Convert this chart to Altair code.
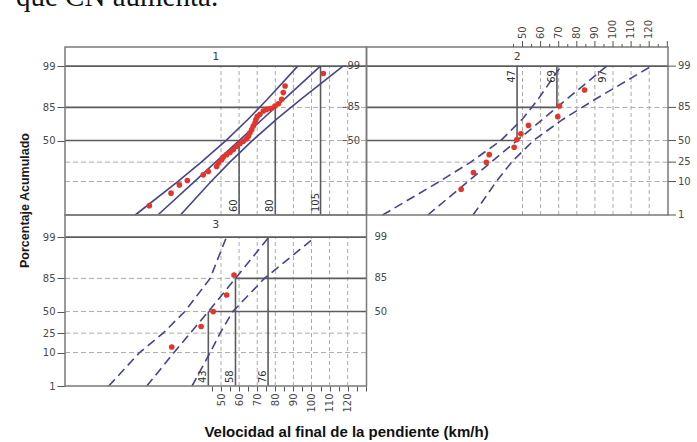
import altair as alt
import pandas as pd
from statistics import NormalDist

ND = NormalDist()

# ---------------- text ----------------
intro_text = ["que CN aumenta."]
y_title = "Porcentaje Acumulado"
x_title = "Velocidad al final de la pendiente (km/h)"
panels = [1, 2, 3]
strip_labels = ["1", "2", "3"]

# ---------------- grids / ticks ----------------
grid_speeds = [50, 60, 70, 80, 90, 100, 110, 120]
axis_speed_ticks = [45, 50, 55, 60, 65, 70, 75, 80, 85, 90, 95, 100, 105, 110, 115, 120, 125, 130]
grid_pcts = [10, 25, 50, 85]
grid_span_pcts = [1, 99]
ylab_full = [99, 85, 50, 25, 10, 1]
ylab_short = [99, 85, 50]

# ---------------- panel 1 ----------------
p1_speed = [10.4, 22.4, 27.0, 31.4, 40.2, 43.0, 47.6, 48.5, 50.4, 51.3, 53.1, 55.0,
            56.8, 58.7, 60.5, 62.3, 64.2, 65.1, 66.0, 67.0, 67.8, 68.8, 69.3, 70.0,
            71.5, 73.4, 75.2, 77.5, 79.8, 81.7, 83.5, 84.4, 85.4, 106.5]
p1_pct = [2.1, 5.0, 8.3, 10.6, 14.2, 16.7, 20.9, 24.2, 27.5, 30.4, 33.0, 35.6,
          38.9, 42.9, 46.3, 49.2, 52.1, 55.4, 59.5, 63.5, 67.4, 71.1, 74.5, 77.2,
          79.4, 82.2, 83.5, 84.1, 86.0, 87.5, 90.1, 93.3, 95.6, 98.2]
band_pcts_12 = [1, 10, 25, 50, 75, 90, 99]
p1_lower = [2.6, 26.1, 39.1, 52.7, 65.1, 75.5, 92.4]
p1_fit = [15.1, 35.3, 47.0, 60.0, 73.0, 84.7, 104.9]
p1_upper = [27.6, 44.5, 54.9, 67.3, 80.9, 93.9, 117.4]
p1_ref_speed = [60, 80, 105]
p1_ref_pct = [50, 85, 99]
p1_ref_label = ["60", "80", "105"]

# ---------------- panel 2 ----------------
p2_speed = [16.1, 22.9, 30.0, 31.6, 45.4, 46.9, 49.1, 53.3, 69.5, 70.4, 84.3]
p2_pct = [6.4, 15.9, 24.8, 33.0, 41.7, 51.2, 58.3, 68.2, 77.2, 86.0, 94.3]
p2_lower = [-27.3, 4.1, 21.4, 38.0, 50.0, 58.5, 71.3]
p2_fit = [-2.3, 19.8, 32.7, 47.0, 61.3, 74.2, 96.5]
p2_upper = [22.7, 35.5, 44.0, 56.0, 72.6, 89.9, 121.3]
p2_ref_speed = [47, 69, 97]
p2_ref_pct = [50, 85, 99]
p2_ref_label = ["47", "69", "97"]

# ---------------- panel 3 ----------------
p3_speed = [22.8, 39.0, 45.7, 53.1, 57.2]
p3_pct = [13.4, 32.0, 50.0, 69.8, 87.3]
band_pcts_3 = [1, 10, 25, 50, 85, 99]
p3_lower = [-12.0, 5.0, 18.0, 30.0, 44.0, 53.0]
p3_fit = [9.0, 24.0, 33.0, 43.0, 58.0, 76.5]
p3_upper = [34.0, 44.0, 49.5, 56.5, 74.0, 102.0]
p3_ref_speed = [43, 58, 76]
p3_ref_pct = [50, 85, 99]
p3_ref_label = ["43", "58", "76"]

# ---------------- geometry / style ----------------
PXX = 1.81            # px per km/h
PXZ = 32.0            # px per normal-score unit
W_PANEL = 301.5
XMIN = 50 - 156 / PXX
SPAN = W_PANEL / PXX
XMAX = XMIN + SPAN
ZMIN = ND.inv_cdf(0.01)
H1, H3 = 168, 171
H1U, H3U = H1 / PXZ, H3 / PXZ
ROW1 = H3U
WIDTH = int(round(2 * W_PANEL))
HEIGHT = H1 + H3
ZTOP = ZMIN + H3U + H1U

GRID = "#ababab"
SOLID = "#5c5c5c"
FRAME = "#7a7a7a"
BAND = "#45458a"
PT = "#e4352b"
AXC = "#555555"
LBL = "#4a4a4a"
FONT = "DejaVu Sans"

XS = alt.Scale(domain=[XMIN, XMIN + 2 * SPAN], nice=False, zero=False)
YS = alt.Scale(domain=[ZMIN, ZTOP], nice=False, zero=False)

DX = f"(datum.panel == 2 ? {SPAN} : 0)"
DY = f"(datum.panel == 3 ? 0 : {ROW1})"
HU = f"(datum.panel == 3 ? {H3U} : {H1U})"

# left y axis (panels 1 and 3) and bottom x axis (panel 3), shared by all layers
left_vals = ([ND.inv_cdf(p / 100) + ROW1 for p in ylab_short]
             + [ND.inv_cdf(p / 100) for p in ylab_full])
left_label_expr = (f"format(cumulativeNormal(datum.value > {ZMIN + ROW1 - 0.01} ? "
                   f"datum.value - {ROW1} : datum.value) * 100, '.0f')")
YAXIS = alt.Axis(
    orient="left", values=left_vals, labelExpr=left_label_expr,
    domain=False, grid=False, tickColor=AXC, tickSize=8, tickWidth=1,
    labelFont=FONT, labelFontSize=10, labelColor=LBL, labelPadding=2,
    title=y_title, titleX=-41, titleY=153, titleAngle=270,
    titleBaseline="middle", titleAlign="center", titleFont="Liberation Sans",
    titleFontSize=12.5, titleFontWeight="bold", titleColor="#1a1a1a")
XAXIS = alt.Axis(
    orient="bottom", values=axis_speed_ticks,
    labelExpr="(datum.value % 10 === 0 && datum.value >= 50 && datum.value <= 120) ? datum.label : ''",
    labelAngle=270, labelAlign="right", labelBaseline="middle",
    domain=False, grid=False, tickColor=AXC, tickSize=5, tickWidth=1,
    labelFont=FONT, labelFontSize=10, labelColor=LBL, labelPadding=2,
    title=x_title, titleX=281, titleY=45, titleBaseline="middle",
    titleAlign="center", titleFont="Liberation Sans", titleFontSize=15,
    titleFontWeight="bold", titleColor="#111111")


def XU(f):
    return f"datum.{f} + {DX}"


def YU(f):
    return f"quantileNormal(datum.{f} / 100) + {DY}"


def X(f):
    return alt.X(f"{f}:Q", scale=XS, axis=XAXIS)


def Y(f):
    return alt.Y(f"{f}:Q", scale=YS, axis=YAXIS)


# ---------------- tables ----------------
pts_rows, band_rows = [], []
for pn, sp, pc in ((1, p1_speed, p1_pct), (2, p2_speed, p2_pct), (3, p3_speed, p3_pct)):
    for s, p in zip(sp, pc):
        pts_rows.append({"panel": pn, "speed": s, "p": p})
for pn, bp, lo, fi, up in ((1, band_pcts_12, p1_lower, p1_fit, p1_upper),
                           (2, band_pcts_12, p2_lower, p2_fit, p2_upper),
                           (3, band_pcts_3, p3_lower, p3_fit, p3_upper)):
    for name, vals in (("lower", lo), ("fit", fi), ("upper", up)):
        for p, v in zip(bp, vals):
            band_rows.append({"panel": pn, "key": f"{pn}-{name}", "p": p, "speed": v})

ref_rows = []
for pn, sp, pc, lab, end in ((1, p1_ref_speed, p1_ref_pct, p1_ref_label, 1),
                             (2, p2_ref_speed, p2_ref_pct, p2_ref_label, 99),
                             (3, p3_ref_speed, p3_ref_pct, p3_ref_label, 1)):
    for s, p, l in zip(sp, pc, lab):
        ref_rows.append({"panel": pn, "speed": s, "pa": p, "pb": end, "lab": l})
ref_df = pd.DataFrame(ref_rows)

hs_rows = [
    {"panel": 1, "p": 99, "x0": XMIN, "x1": XMAX},
    {"panel": 1, "p": 85, "x0": XMIN, "x1": p1_ref_speed[1]},
    {"panel": 1, "p": 50, "x0": XMIN, "x1": p1_ref_speed[0]},
    {"panel": 2, "p": 99, "x0": XMIN, "x1": XMAX},
    {"panel": 2, "p": 85, "x0": XMIN, "x1": p2_ref_speed[1]},
    {"panel": 2, "p": 50, "x0": XMIN, "x1": p2_ref_speed[0]},
    {"panel": 3, "p": 99, "x0": XMIN, "x1": XMAX},
    {"panel": 3, "p": 85, "x0": p3_ref_speed[1], "x1": XMAX},
    {"panel": 3, "p": 50, "x0": p3_ref_speed[0], "x1": XMAX},
]

gv_rows = [{"panel": pn, "speed": s, "lo": grid_span_pcts[0], "hi": grid_span_pcts[1]}
           for pn in panels for s in grid_speeds]
gh_rows = [{"panel": pn, "p": p, "x0": XMIN, "x1": XMAX} for pn in panels for p in grid_pcts]
frame_rows = [{"panel": pn, "x0": XMIN, "x1": XMAX, "p0": 1} for pn in panels]
strip_rows = [{"panel": pn, "lab": l, "xc": (XMIN + XMAX) / 2, "p0": 1}
              for pn, l in zip(panels, strip_labels)]

# ---------------- layers ----------------
vgrid = (alt.Chart(pd.DataFrame(gv_rows))
         .transform_calculate(xu=XU("speed"), ylo=YU("lo"), yhi=YU("hi"))
         .mark_rule(color=GRID, strokeDash=[4, 3], strokeWidth=1)
         .encode(x=X("xu"), y=Y("ylo"), y2="yhi:Q"))

hgrid = (alt.Chart(pd.DataFrame(gh_rows))
         .transform_calculate(xa=XU("x0"), xb=XU("x1"), yu=YU("p"))
         .mark_rule(color=GRID, strokeDash=[5, 3], strokeWidth=1)
         .encode(x=X("xa"), x2="xb:Q", y=Y("yu")))

hsolid = (alt.Chart(pd.DataFrame(hs_rows))
          .transform_calculate(xa=XU("x0"), xb=XU("x1"), yu=YU("p"))
          .mark_rule(color=SOLID, strokeWidth=1.6)
          .encode(x=X("xa"), x2="xb:Q", y=Y("yu")))

vsolid = (alt.Chart(ref_df)
          .transform_calculate(xu=XU("speed"), ya=YU("pa"), yb=YU("pb"))
          .mark_rule(color=SOLID, strokeWidth=1.6)
          .encode(x=X("xu"), y=Y("ya"), y2="yb:Q"))

ref_bottom = (alt.Chart(ref_df)
              .transform_filter("datum.panel != 2")
              .transform_calculate(xu=XU("speed"), yu=YU("pb"))
              .mark_text(angle=270, align="left", baseline="bottom", dx=3,
                         font=FONT, fontSize=10, color="#333333")
              .encode(x=X("xu"), y=Y("yu"), text="lab:N"))

ref_top = (alt.Chart(ref_df)
           .transform_filter("datum.panel == 2")
           .transform_calculate(xu=XU("speed"), yu=YU("pb"))
           .mark_text(angle=270, align="right", baseline="bottom", dx=-4,
                      font=FONT, fontSize=10, color="#333333")
           .encode(x=X("xu"), y=Y("yu"), text="lab:N"))

solid_bands = (alt.Chart(pd.DataFrame(band_rows))
               .transform_filter("datum.panel == 1")
               .transform_calculate(xu=XU("speed"), yu=YU("p"))
               .mark_line(color=BAND, strokeWidth=1.6)
               .encode(x=X("xu"), y=Y("yu"), detail="key:N", order=alt.Order("p:Q")))

dashed_bands = (alt.Chart(pd.DataFrame(band_rows))
                .transform_filter("datum.panel != 1")
                .transform_calculate(xu=XU("speed"), yu=YU("p"))
                .mark_line(color=BAND, strokeWidth=1.6, strokeDash=[9, 5])
                .encode(x=X("xu"), y=Y("yu"), detail="key:N", order=alt.Order("p:Q")))

pts = (alt.Chart(pd.DataFrame(pts_rows))
       .transform_calculate(xu=XU("speed"), yu=YU("p"))
       .mark_circle(size=32, color=PT, opacity=1)
       .encode(x=X("xu"), y=Y("yu")))

frames = (alt.Chart(pd.DataFrame(frame_rows))
          .transform_calculate(xa=XU("x0"), xb=XU("x1"), ya=YU("p0"))
          .transform_calculate(yb=f"datum.ya + {HU}")
          .mark_rect(fillOpacity=0, stroke=FRAME, strokeWidth=1.5)
          .encode(x=X("xa"), x2="xb:Q", y=Y("ya"), y2="yb:Q"))

strips = (alt.Chart(pd.DataFrame(strip_rows))
          .transform_calculate(xu=XU("xc"), ya=YU("p0"))
          .transform_calculate(yt=f"datum.ya + {HU}")
          .mark_text(font=FONT, fontSize=11, color="#444444", baseline="middle", dy=10)
          .encode(x=X("xu"), y=Y("yt"), text="lab:N"))

# --- top x labels and ticks for panel 2 ---
top_tick_rows = [{"panel": 2, "speed": s} for s in axis_speed_ticks]
top_ticks = (alt.Chart(pd.DataFrame(top_tick_rows))
             .transform_calculate(xu=XU("speed"), yt=f"{ZTOP}",
                                  yt2=f"{ZTOP} + (datum.speed % 10 == 0 ? {6 / PXZ} : {3 / PXZ})")
             .mark_rule(color=AXC, strokeWidth=1)
             .encode(x=X("xu"), y=Y("yt"), y2="yt2:Q"))
top_label_rows = [{"panel": 2, "speed": s, "lab": str(s)} for s in grid_speeds]
top_labels = (alt.Chart(pd.DataFrame(top_label_rows))
              .transform_calculate(xu=XU("speed"), yt=f"{ZTOP}")
              .mark_text(angle=270, align="left", baseline="middle", dx=8,
                         font=FONT, fontSize=10, color=LBL)
              .encode(x=X("xu"), y=Y("yt"), text="lab:N"))

# --- right-side y labels ---
r1_rows = [{"panel": 1, "p": p, "lab": str(p), "xe": XMAX} for p in ylab_short]
r1_labels = (alt.Chart(pd.DataFrame(r1_rows))
             .transform_calculate(xu=XU("xe"), yu=YU("p"))
             .mark_text(align="left", baseline="middle", dx=-19, font=FONT, fontSize=10, color=LBL)
             .encode(x=X("xu"), y=Y("yu"), text="lab:N"))
r1_ticks = (alt.Chart(pd.DataFrame(r1_rows))
            .transform_calculate(xa=f"{XU('xe')} - {24 / PXX}", xb=f"{XU('xe')} - {20 / PXX}",
                                 yu=YU("p"))
            .mark_rule(color=AXC, strokeWidth=1)
            .encode(x=X("xa"), x2="xb:Q", y=Y("yu")))

r2_rows = [{"panel": 2, "p": p, "lab": str(p), "xe": XMAX} for p in ylab_full]
r2_labels = (alt.Chart(pd.DataFrame(r2_rows))
             .transform_calculate(xu=XU("xe"), yu=YU("p"))
             .mark_text(align="left", baseline="middle", dx=10, font=FONT, fontSize=10, color=LBL)
             .encode(x=X("xu"), y=Y("yu"), text="lab:N"))
r2_ticks = (alt.Chart(pd.DataFrame(r2_rows))
            .transform_calculate(xa=XU("xe"), xb=f"{XU('xe')} + {8 / PXX}", yu=YU("p"))
            .mark_rule(color=AXC, strokeWidth=1)
            .encode(x=X("xa"), x2="xb:Q", y=Y("yu")))

r3_rows = [{"panel": 3, "p": p, "lab": str(p), "xe": XMAX} for p in ylab_short]
r3_labels = (alt.Chart(pd.DataFrame(r3_rows))
             .transform_calculate(xu=XU("xe"), yu=YU("p"))
             .mark_text(align="left", baseline="middle", dx=8, font=FONT, fontSize=10, color=LBL)
             .encode(x=X("xu"), y=Y("yu"), text="lab:N"))

intro = (alt.Chart(pd.DataFrame({"t": intro_text}))
         .mark_text(font="Liberation Serif", fontSize=29, color="#111111",
                    align="left", baseline="alphabetic")
         .encode(text="t:N", x=alt.value(-49), y=alt.value(-41)))

chart = (alt.layer(
    vgrid, hgrid, hsolid, vsolid, solid_bands, dashed_bands, pts,
    ref_bottom, ref_top, frames, strips,
    top_ticks, top_labels, r1_ticks, r1_labels, r2_ticks, r2_labels, r3_labels, intro)
    .properties(width=WIDTH, height=HEIGHT,
                autosize=alt.AutoSizeParams(type="none"),
                padding={"left": 65, "top": 47, "right": 697 - 65 - WIDTH,
                         "bottom": 442 - 47 - HEIGHT},
                background="white")
    .configure_view(stroke=None))

chart.save("out.html", embed_options={"renderer": "svg", "actions": False})
